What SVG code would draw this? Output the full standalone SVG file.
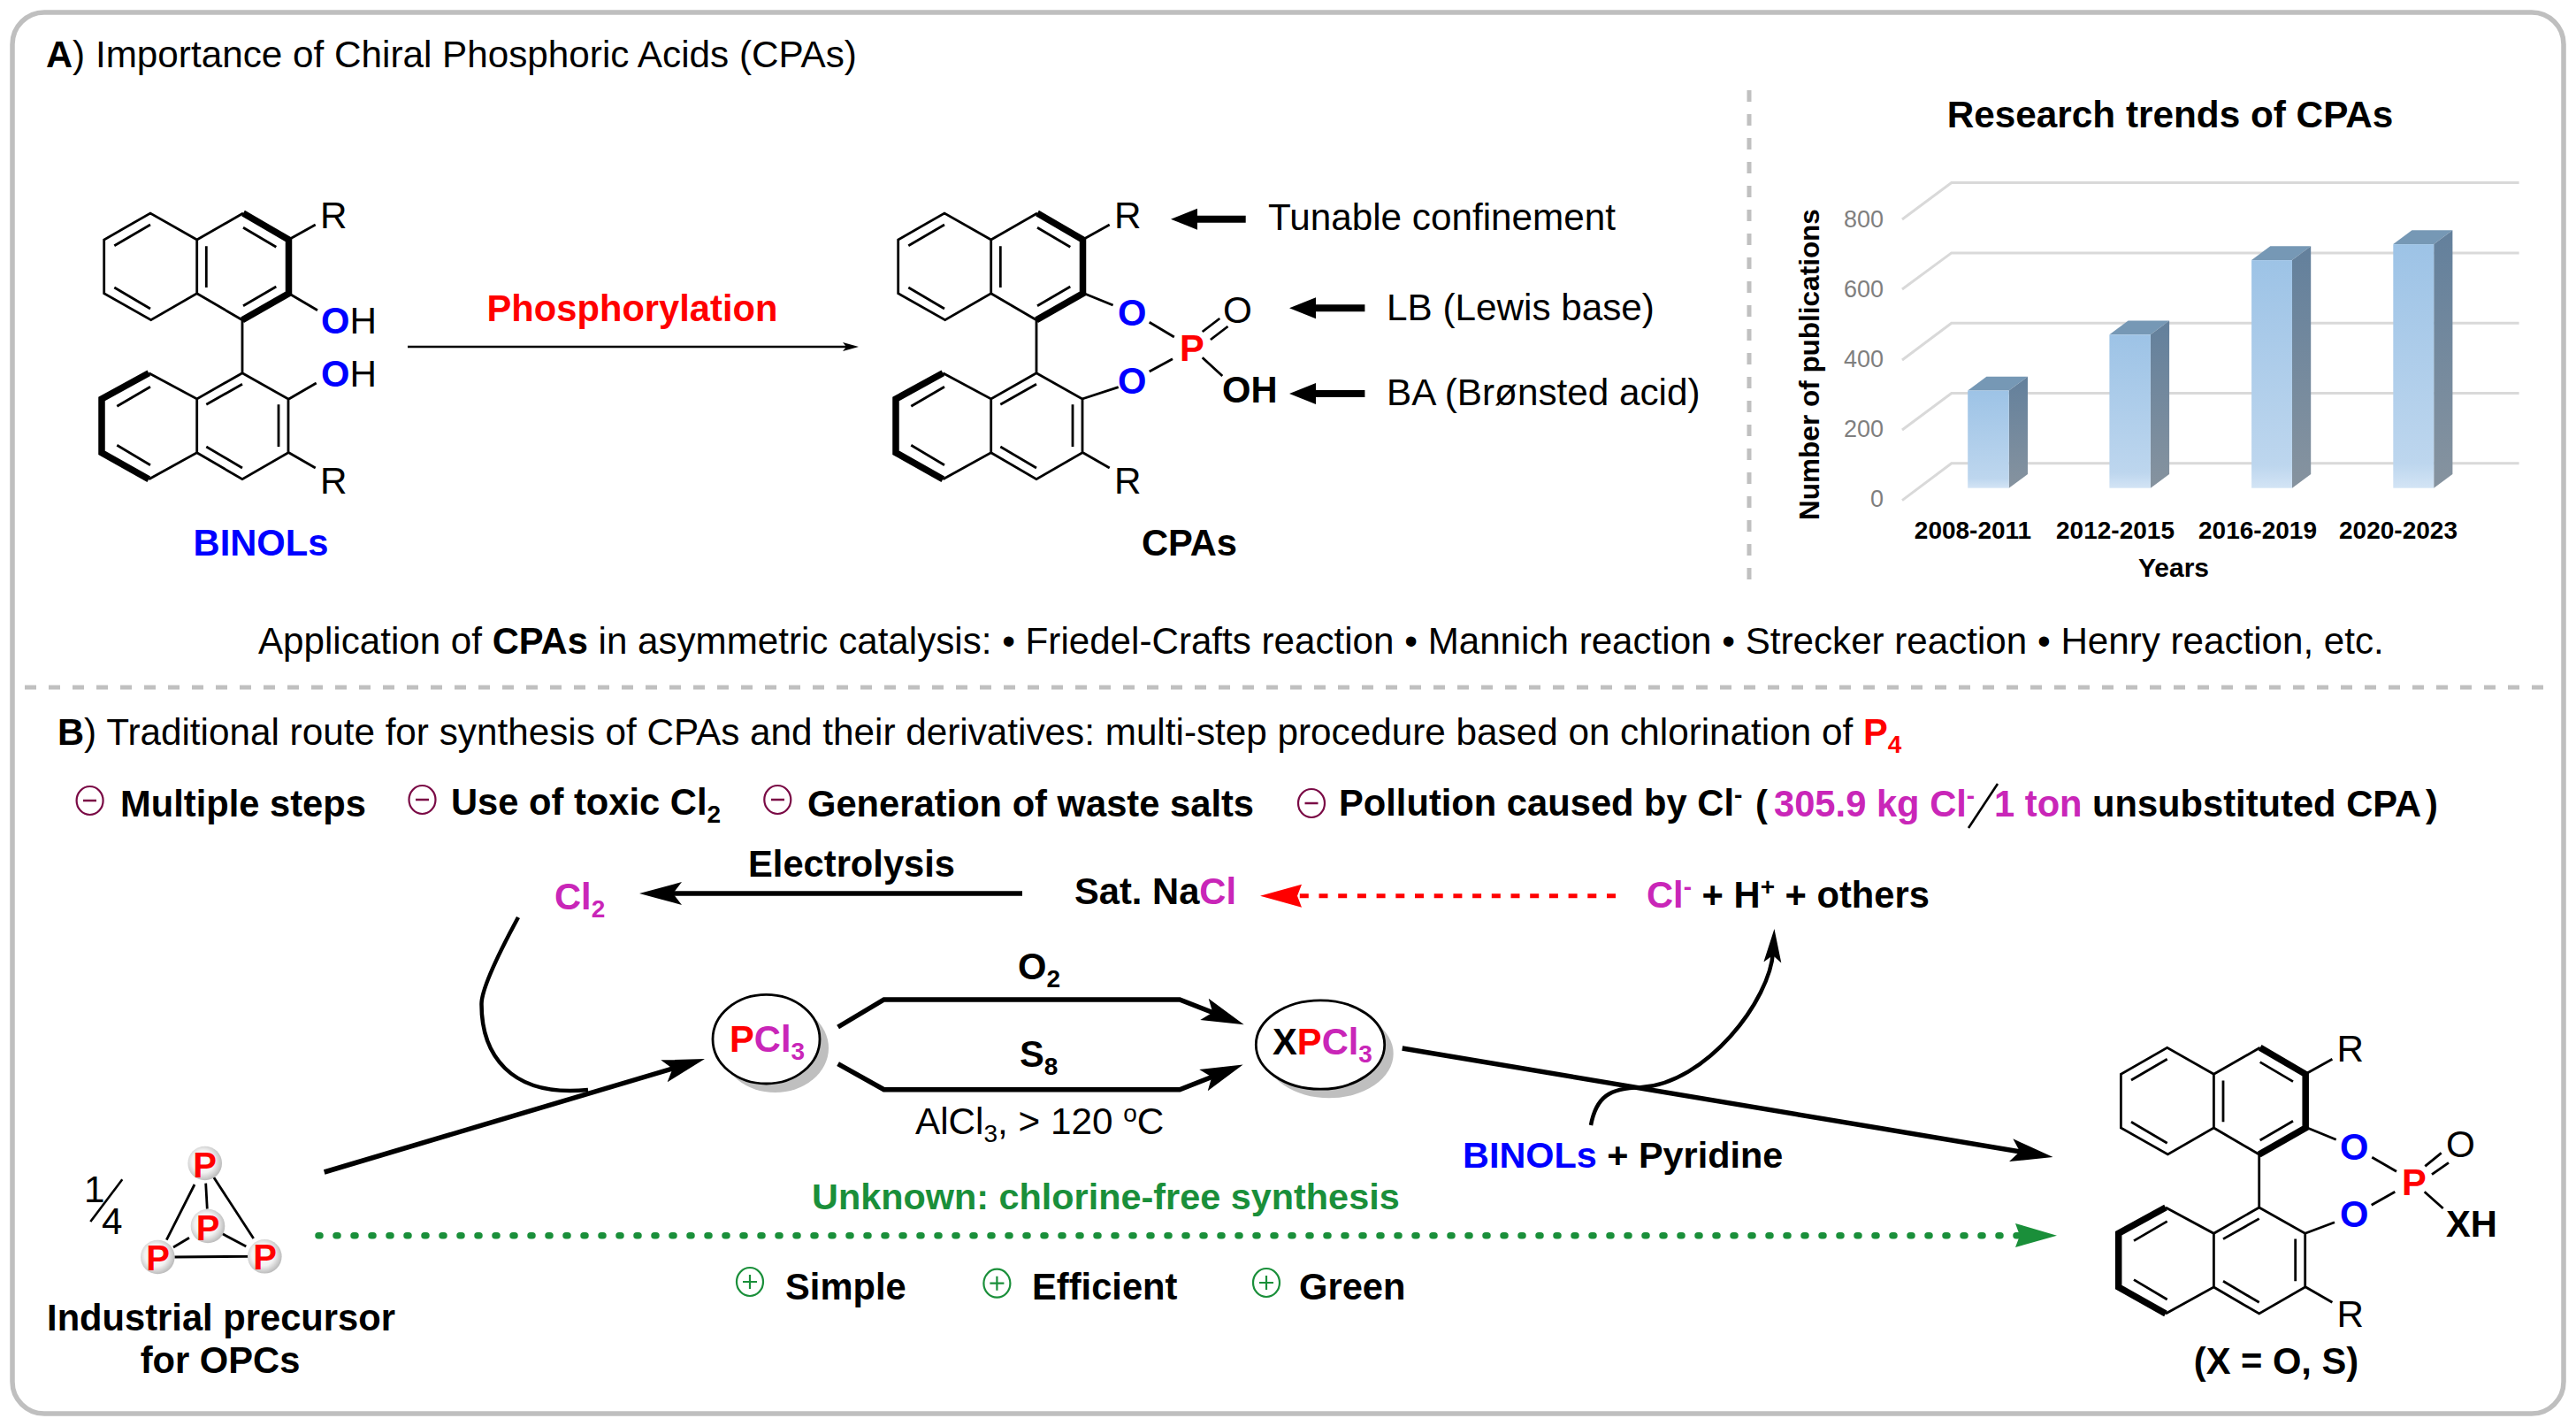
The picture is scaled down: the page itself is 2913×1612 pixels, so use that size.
<svg xmlns="http://www.w3.org/2000/svg" xmlns:xlink="http://www.w3.org/1999/xlink" width="2913" height="1612" viewBox="0 0 2913 1612">
<style>
text{font-family:"Liberation Sans",Arial,sans-serif;font-size:42.25px;fill:#000}
.b{font-weight:bold;font-size:41.7px}
.m{fill:#c926b8}.r{fill:#ff0000}.bl{fill:#0000ff}.g{fill:#1a8f3a}
.s{font-size:28px}
.mid{text-anchor:middle}
.bond{stroke:#000;stroke-width:2.8;fill:none;stroke-linecap:butt}
.thick{stroke:#000;stroke-width:7.5;fill:none;stroke-linejoin:miter}
.arr{stroke:#000;fill:none}
.sep{stroke:#c0c0c0;stroke-width:5;stroke-dasharray:13 14;fill:none}
.grid{stroke:#d9d9d9;stroke-width:3;fill:none}
.tick{font-size:27px;fill:#7f7f7f;text-anchor:end}
.cat{font-size:28px;font-weight:bold;text-anchor:middle}
.minus{fill:#fff;stroke:#7a0a45;stroke-width:2.2}
.plus{fill:#fff;stroke:#1a8f3a;stroke-width:2.2}
.shadow{fill:#bfbfbf}
.node{fill:#fff;stroke:#000;stroke-width:2.8}
.atom{fill:url(#sph)}
.pb{font-size:40px;font-weight:bold;fill:#ff0000;text-anchor:middle}
</style>
<defs>
<linearGradient id="front" x1="0" y1="0" x2="0" y2="1"><stop offset="0" stop-color="#9dc3e6"/><stop offset="0.9" stop-color="#bdd6ee"/><stop offset="1" stop-color="#d3e4f5"/></linearGradient>
<linearGradient id="side" x1="0" y1="0" x2="0" y2="1"><stop offset="0" stop-color="#63809c"/><stop offset="1" stop-color="#86939f"/></linearGradient>
<radialGradient id="sph" cx="0.45" cy="0.45" r="0.55"><stop offset="0" stop-color="#ffffff"/><stop offset="0.6" stop-color="#f2f2f2"/><stop offset="1" stop-color="#bdbdbd"/></radialGradient>
<marker id="hBig" markerUnits="userSpaceOnUse" markerWidth="50" markerHeight="28" viewBox="0 0 50 28" refX="14" refY="14" orient="auto"><path d="M48,14 L0,1 L10,14 L0,27 Z" fill="#000"/></marker>
<marker id="hBlock" markerUnits="userSpaceOnUse" markerWidth="32" markerHeight="26" viewBox="0 0 32 26" refX="6" refY="13" orient="auto"><path d="M30,13 L0,1 L0,25 Z" fill="#000"/></marker>
<marker id="hThin" markerUnits="userSpaceOnUse" markerWidth="20" markerHeight="14" viewBox="0 0 20 14" refX="5" refY="7" orient="auto"><path d="M18,7 L0,2 L4,7 L0,12 Z" fill="#000"/></marker>
<marker id="hNarrow" markerUnits="userSpaceOnUse" markerWidth="40" markerHeight="24" viewBox="0 0 40 24" refX="12" refY="12" orient="auto"><path d="M38,12 L0,2 L8,12 L0,22 Z" fill="#000"/></marker>
<marker id="hRed" markerUnits="userSpaceOnUse" markerWidth="50" markerHeight="28" viewBox="0 0 50 28" refX="10" refY="14" orient="auto"><path d="M47,14 L0,1 L5,14 L0,27 Z" fill="#ff0000"/></marker>
<g id="binaph">
<path class="bond" d="M222.7,271 L170,241 L117.7,271 L117.7,331.7 L170.7,361.7 L222.7,331.7 Z M222.7,271 L275,241 M222.7,331.7 L274,361.7 M274,361.7 L274,421.7 M274,421.7 L222.7,451 L168.3,421.7 M222.7,451 L222.7,511.7 L168.3,541.7 M222.7,511.7 L274,541.7 L326,511.7 L326,451 L274,421.7"/>
<path class="bond" d="M129.3,277.7 L170,254 M129.3,325 L170,349 M233.3,278.3 L233.3,325 M275,257.3 L312.3,279.3 M275,345.7 L312.3,324 M233.3,457.3 L274,434.3 M315,457.3 L315,505 M233.3,505 L274,529 M132.3,459.3 L170,437.3 M132.3,503.3 L170,525.7"/>
<path class="thick" d="M275,241 L326.5,271 L326.5,331.7 L274,361.7"/>
<path class="thick" d="M168.3,421.7 L115,451 L115,511.7 L168.3,541.7"/>
<path class="bond" d="M328,270 L356.7,254 M326.7,511.7 L356.7,529"/>
</g>
</defs>
<rect width="2913" height="1612" fill="#fff"/>
<rect id="frame" x="14" y="14" width="2885" height="1584" rx="36" ry="36" fill="none" stroke="#bfbfbf" stroke-width="5.5"/>
<path class="sep" d="M1978,102 L1978,656"/>
<path class="sep" d="M28,777 L2882,777"/>

<text id="title-a" x="52" y="76"><tspan class="b">A</tspan>) Importance of Chiral Phosphoric Acids (CPAs)</text>

<g id="binols">
<use xlink:href="#binaph" href="#binaph"/>
<path class="bond" d="M326.7,331.7 L359,350.7 M326.7,451 L357.7,433"/>
<text x="362" y="258">R</text><text x="362" y="558">R</text>
<text x="363" y="377"><tspan class="b bl">O</tspan>H</text>
<text x="363" y="437"><tspan class="b bl">O</tspan>H</text>
<text class="b bl mid" x="295" y="628">BINOLs</text>
</g>

<g id="cpas">
<use xlink:href="#binaph" href="#binaph" x="898"/>
<path class="bond" d="M1226,331.7 L1258.6,345 M1223.7,451 L1264.7,437.7 M1299.7,364.3 L1327.8,381 M1299.7,420 L1326,405.7 M1359.7,375 L1379.3,360 M1368.9,384 L1388.5,369 M1359.7,404.3 L1382.3,425"/>
<text x="1260" y="258">R</text><text x="1260" y="558">R</text>
<text class="b bl" x="1264" y="368">O</text><text class="b bl" x="1264" y="445">O</text>
<text class="b r" x="1334" y="408">P</text>
<text x="1383" y="365">O</text>
<text class="b" x="1382" y="455">OH</text>
<text class="b mid" x="1345" y="628">CPAs</text>
</g>

<g id="annotations">
<text x="1434" y="260">Tunable confinement</text>
<text x="1568" y="362">LB (Lewis base)</text>
<text x="1568" y="458">BA (Brønsted acid)</text>
</g>

<g id="chart">
<text class="b mid" style="font-size:42.3px" x="2454" y="144">Research trends of CPAs</text>
<path class="grid" d="M2151,248 L2206.8,206.5 L2848.6,206.5 M2151,327 L2206.8,285.9 L2848.6,285.9 M2151,407 L2206.8,365.2 L2848.6,365.2 M2151,486 L2206.8,444.5 L2848.6,444.5 M2151,565.6 L2206.8,523.8 L2848.6,523.8"/>
<text class="tick" x="2130" y="257">800</text><text class="tick" x="2130" y="336">600</text><text class="tick" x="2130" y="415">400</text><text class="tick" x="2130" y="494">200</text><text class="tick" x="2130" y="573">0</text>
<text class="b mid" style="font-size:31.5px" transform="translate(2057,412) rotate(-90)">Number of publications</text>
<g id="bar1"><path fill="#7698b5" d="M2225.2,441.5 L2246.4,425.7 L2293,425.7 L2271.7,441.5 Z"/><path fill="url(#side)" d="M2271.7,441.5 L2293,425.7 L2293,536 L2271.7,551.7 Z"/><rect fill="url(#front)" x="2225.2" y="441.5" width="46.5" height="110.2"/></g>
<g id="bar2"><path fill="#7698b5" d="M2385.4,378.3 L2406.6,362.5 L2453.1,362.5 L2431.9,378.3 Z"/><path fill="url(#side)" d="M2431.9,378.3 L2453.1,362.5 L2453.1,536 L2431.9,551.7 Z"/><rect fill="url(#front)" x="2385.4" y="378.3" width="46.5" height="173.4"/></g>
<g id="bar3"><path fill="#7698b5" d="M2546.1,294.1 L2567.3,278.3 L2613.2,278.3 L2592,294.1 Z"/><path fill="url(#side)" d="M2592,294.1 L2613.2,278.3 L2613.2,536 L2592,551.7 Z"/><rect fill="url(#front)" x="2546.1" y="294.1" width="45.9" height="257.6"/></g>
<g id="bar4"><path fill="#7698b5" d="M2706.3,276.1 L2727.5,260.3 L2773.4,260.3 L2752.2,276.1 Z"/><path fill="url(#side)" d="M2752.2,276.1 L2773.4,260.3 L2773.4,536 L2752.2,551.7 Z"/><rect fill="url(#front)" x="2706.3" y="276.1" width="45.9" height="275.6"/></g>
<text class="cat" x="2231" y="609">2008-2011</text><text class="cat" x="2392" y="609">2012-2015</text><text class="cat" x="2553" y="609">2016-2019</text><text class="cat" x="2712" y="609">2020-2023</text>
<text class="b mid" style="font-size:30px" x="2458" y="652">Years</text>
</g>

<text id="application" style="font-size:42.15px" x="292" y="739">Application of <tspan class="b">CPAs</tspan> in asymmetric catalysis: • Friedel-Crafts reaction • Mannich reaction • Strecker reaction • Henry reaction, etc.</text>

<text id="title-b" x="65" y="842"><tspan class="b">B</tspan>) Traditional route for synthesis of CPAs and their derivatives: multi-step procedure based on chlorination of <tspan class="b r">P</tspan><tspan class="b r s" dy="9">4</tspan></text>

<g id="drawbacks">
<g id="minus1"><ellipse class="minus" cx="101.6" cy="905" rx="15" ry="16"/><path d="M94,905 H109" stroke="#7a0a45" stroke-width="2.5"/></g>
<text class="b" x="136" y="923">Multiple steps</text>
<g id="minus2"><ellipse class="minus" cx="477.5" cy="904" rx="15" ry="16"/><path d="M470,904 H485" stroke="#7a0a45" stroke-width="2.5"/></g>
<text class="b" x="510" y="921">Use of toxic Cl<tspan class="s" dy="9">2</tspan></text>
<g id="minus3"><ellipse class="minus" cx="879.3" cy="904" rx="15" ry="16"/><path d="M872,904 H887" stroke="#7a0a45" stroke-width="2.5"/></g>
<text class="b" x="913" y="923">Generation of waste salts</text>
<g id="minus4"><ellipse class="minus" cx="1483" cy="908" rx="15" ry="16"/><path d="M1475.5,908 H1490.5" stroke="#7a0a45" stroke-width="2.5"/></g>
<text class="b" x="1514" y="922">Pollution caused by Cl<tspan class="s" dy="-14">-</tspan></text>
<text class="b" x="1985" y="923">(</text>
<text class="b m" x="2006" y="923">305.9 kg Cl<tspan class="s" dy="-14">-</tspan></text>
<path d="M2259,886 L2226,936" stroke="#000" stroke-width="2.6"/>
<text class="b m" x="2255" y="923">1 ton</text>
<text class="b" x="2366" y="923">unsubstituted CPA</text>
<text class="b" x="2743" y="923">)</text>
</g>

<g id="connectors">
<path class="arr" stroke-width="2.4" d="M461,392 L958,392" marker-end="url(#hThin)"/>
<path class="arr" stroke-width="8" d="M1408.7,247.7 L1348,247.7" marker-end="url(#hBlock)"/>
<path class="arr" stroke-width="8" d="M1543.4,348.3 L1482,348.3" marker-end="url(#hBlock)"/>
<path class="arr" stroke-width="8" d="M1543.4,445 L1482,445" marker-end="url(#hBlock)"/>
<path class="arr" stroke-width="5.5" d="M1156,1010 L757,1010" marker-end="url(#hBig)"/>
<path stroke="#ff0000" stroke-width="5" fill="none" stroke-dasharray="10 11.7" d="M1827,1012.7 L1462,1012.7" marker-end="url(#hRed)"/>
<path class="arr" stroke-width="4.5" d="M586,1037 C560,1085 544.5,1120 544.5,1135 C544.5,1190 575,1241 665,1232"/>
<path class="arr" stroke-width="5.5" d="M366.7,1325 L764.4,1206.8" marker-end="url(#hBig)"/>
<path class="arr" stroke-width="5.5" stroke-linejoin="miter" d="M947.6,1161 L999.6,1130 L1334,1130 L1375,1146" marker-end="url(#hBig)"/>
<path class="arr" stroke-width="5.5" stroke-linejoin="miter" d="M947.6,1202.7 L999.6,1231.7 L1334,1231.7 L1374,1216" marker-end="url(#hBig)"/>
<path class="arr" stroke-width="5.5" d="M1585.7,1185 L2288,1302.5" marker-end="url(#hBig)"/>
<path class="arr" stroke-width="4.5" d="M1799,1272 C1805,1240 1820,1230 1855,1229.3 C1930,1225 2002,1130 2005,1076" marker-end="url(#hNarrow)"/>
<path stroke="#1a8f3a" stroke-width="7.5" stroke-linecap="round" fill="none" stroke-dasharray="2 18" d="M360,1396.7 L2285,1396.7"/>
<path d="M2326,1396.7 L2279,1383 L2284,1396.7 L2279,1410 Z" fill="#1a8f3a"/>
</g>

<text id="phosphorylation" class="b r mid" x="715" y="363">Phosphorylation</text>

<g id="cycle">
<text class="b" x="846" y="991">Electrolysis</text>
<g id="cl2"><text class="b m" x="627" y="1028">Cl<tspan class="s" dy="9">2</tspan></text></g>
<g id="nacl"><text class="b" x="1215" y="1022">Sat. Na<tspan class="m">Cl</tspan></text></g>
<g id="cl-ion"><text class="b" x="1862" y="1026"><tspan class="m">Cl</tspan><tspan class="s m" dy="-14">-</tspan><tspan dy="14"> + H</tspan><tspan class="s" dy="-14">+</tspan><tspan dy="14"> + others</tspan></text></g>
</g>

<g id="pcl3">
<ellipse class="shadow" cx="876.5" cy="1184.7" rx="60.5" ry="50.3"/>
<ellipse class="node" cx="866.5" cy="1174.7" rx="60.5" ry="50.3"/>
<text class="b" x="825" y="1189"><tspan class="r">P</tspan><tspan class="m">Cl</tspan><tspan class="s m" dy="9">3</tspan></text>
</g>
<g id="xpcl3">
<ellipse class="shadow" cx="1503" cy="1191" rx="72.7" ry="50.2"/>
<ellipse class="node" cx="1493" cy="1181" rx="72.7" ry="50.2"/>
<text class="b" x="1439" y="1192">X<tspan class="r">P</tspan><tspan class="m">Cl</tspan><tspan class="s m" dy="9">3</tspan></text>
</g>
<text class="b" x="1151" y="1107">O<tspan class="s" dy="9">2</tspan></text>
<text class="b" x="1153" y="1206">S<tspan class="s" dy="9">8</tspan></text>
<text x="1035" y="1282">AlCl<tspan class="s" dy="9">3</tspan><tspan dy="-9">, &gt; 120 </tspan><tspan class="s" dy="-14">o</tspan><tspan dy="14">C</tspan></text>

<g id="reagents"><text class="b" style="font-size:41.4px" x="1654" y="1320"><tspan class="bl" style="font-size:41.4px">BINOLs</tspan> + Pyridine</text></g>

<text id="unknown" class="b g" style="font-size:41.4px" x="918" y="1367">Unknown: chlorine-free synthesis</text>

<g id="benefits">
<g id="plus1"><ellipse class="plus" cx="848" cy="1449" rx="15" ry="16"/><path d="M840,1449 H856 M848,1441 V1457" stroke="#1a8f3a" stroke-width="2.2"/></g>
<text class="b" x="888" y="1469">Simple</text>
<g id="plus2"><ellipse class="plus" cx="1127.4" cy="1450.7" rx="15" ry="16"/><path d="M1119.4,1450.7 H1135.4 M1127.4,1442.7 V1458.7" stroke="#1a8f3a" stroke-width="2.2"/></g>
<text class="b" x="1167" y="1469">Efficient</text>
<g id="plus3"><ellipse class="plus" cx="1432" cy="1450" rx="15" ry="16"/><path d="M1424,1450 H1440 M1432,1442 V1458" stroke="#1a8f3a" stroke-width="2.2"/></g>
<text class="b" x="1469" y="1469">Green</text>
</g>

<g id="p4">
<path class="bond" d="M220,1339 L188.3,1401.7 M232.7,1337.7 L234.3,1366.7 M240,1328.3 L286.7,1400 M196,1410 L214,1399.3 M250.7,1394.3 L278.3,1409 M197.3,1421 L280.7,1420.3"/>
<circle class="atom" cx="231.7" cy="1315" r="19.3"/><circle class="atom" cx="235" cy="1386" r="19.3"/><circle class="atom" cx="178.3" cy="1421" r="19.3"/><circle class="atom" cx="299.3" cy="1420.3" r="19.3"/>
<text class="pb" x="231.5" y="1331">P</text><text class="pb" x="235" y="1402">P</text><text class="pb" x="178.5" y="1436">P</text><text class="pb" x="299.5" y="1435">P</text>
<text x="95" y="1359">1</text><text x="115" y="1395">4</text>
<path d="M138.3,1333.3 L102.3,1381" stroke="#000" stroke-width="2.6"/>
<text class="b mid" x="250" y="1504">Industrial precursor</text>
<text class="b mid" x="249" y="1552">for OPCs</text>
</g>

<g id="product">
<use xlink:href="#binaph" href="#binaph" x="2280.7" y="943.3"/>
<path class="bond" d="M2609.3,1275 L2641.7,1288.3 M2606.7,1394.3 L2640,1381.7 M2682.3,1308.3 L2710,1324.3 M2681.7,1362.3 L2708.3,1347.3 M2742.3,1318.3 L2760.7,1303.3 M2750,1327.7 L2769,1314.3 M2741.7,1347.3 L2762.7,1366"/>
<text x="2642.5" y="1200">R</text><text x="2642.5" y="1500">R</text>
<text class="b bl" x="2646" y="1311">O</text><text class="b bl" x="2646" y="1387">O</text>
<text class="b r" x="2716" y="1351">P</text>
<text x="2766" y="1308">O</text>
<text class="b" x="2766" y="1398">XH</text>
<text class="b mid" x="2574" y="1553">(X = O, S)</text>
</g>
</svg>
